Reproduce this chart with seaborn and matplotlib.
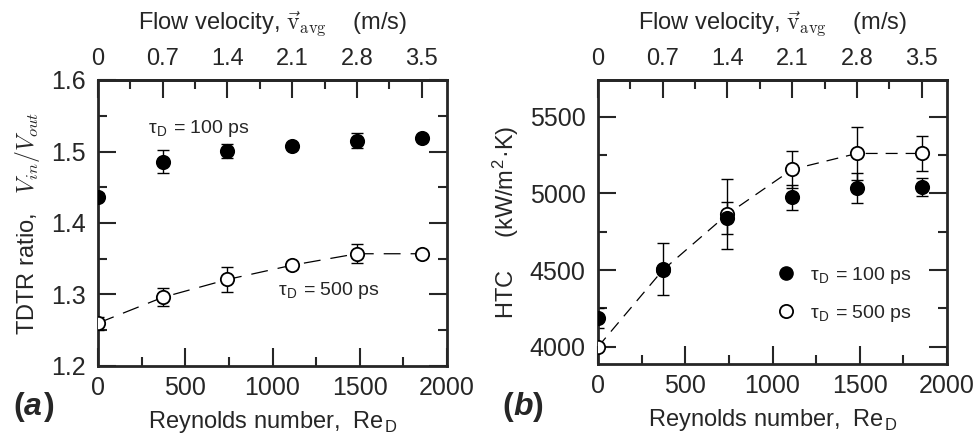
import numpy as np
import pandas as pd
import matplotlib
matplotlib.use("Agg")
import matplotlib.pyplot as plt
import seaborn as sns
from matplotlib.ticker import MultipleLocator, FixedLocator, FixedFormatter
from matplotlib.lines import Line2D

# Reynolds number of each measurement (matches the flow velocities on top)
re_d = [0, 371, 742, 1113, 1484, 1855]

# panel (a): TDTR ratio
ratio_100 = [1.437, 1.486, 1.501, 1.508, 1.515, 1.519]
ratio_100_err = [0.005, 0.0155, 0.010, 0.004, 0.0105, 0.0]
ratio_500 = [1.260, 1.296, 1.321, 1.341, 1.357, 1.357]
ratio_500_err = [0.009, 0.0125, 0.0175, 0.005, 0.013, 0.0]

# panel (b): HTC
htc_100 = [4188, 4507, 4840, 4975, 5035, 5042]
htc_100_err = [63, 170, 105, 80, 100, 60]
htc_500 = [4000, 4500, 4865, 5157, 5261, 5261]
htc_500_err = [0, 0, 230, 122, 170, 115]

vel_ticks = [0, 0.7, 1.4, 2.1, 2.8, 3.5]
vel_labels = ['0', '0.7', '1.4', '2.1', '2.8', '3.5']
re_per_vel = 530.0

df_a = pd.DataFrame({'Re': re_d, 'r100': ratio_100, 'r500': ratio_500})
df_b = pd.DataFrame({'Re': re_d, 'h100': htc_100, 'h500': htc_500})

sns.set_style("ticks")
plt.rcParams['font.family'] = ['Liberation Sans', 'DejaVu Sans']
plt.rcParams['mathtext.fontset'] = 'cm'
plt.rcParams['axes.linewidth'] = 2.0

fig = plt.figure(figsize=(9.8, 4.38), dpi=100)
ax1 = fig.add_axes([98/980, 1-366/438, 349/980, 286/438])
ax2 = fig.add_axes([598/980, 1-364/438, 349/980, 284/438])

tick_fs = 18
label_fs = 17
note_fs = 14
msize = 92


def draw_panel(ax, df, c100, c500, e100, e500, dash):
    # dashed guide through the 500 ps points
    sns.lineplot(data=df, x='Re', y=c500, ax=ax, color='k', lw=0.9,
                 linestyle=(0, dash), zorder=1)
    ax.errorbar(df['Re'], df[c500], yerr=e500, fmt='none', ecolor='k',
                elinewidth=1, capsize=4.3, capthick=1, zorder=2)
    ax.errorbar(df['Re'], df[c100], yerr=e100, fmt='none', ecolor='k',
                elinewidth=1, capsize=4.3, capthick=1, zorder=2)
    sns.scatterplot(data=df, x='Re', y=c500, ax=ax, marker='o', s=msize,
                    color='white', edgecolor='k', linewidth=1.3, zorder=3)
    sns.scatterplot(data=df, x='Re', y=c100, ax=ax, marker='o', s=msize,
                    color='k', edgecolor='k', linewidth=1.3, zorder=4)

    ax.set_xlim(0, 2000)
    ax.xaxis.set_major_locator(MultipleLocator(500))
    ax.xaxis.set_minor_locator(MultipleLocator(250))
    ax.tick_params(which='both', direction='in', top=False, right=True,
                   width=1.5, labelsize=tick_fs)
    ax.tick_params(which='major', length=13)
    ax.tick_params(which='minor', length=6.5)
    ax.tick_params(axis='x', pad=7)
    ax.tick_params(axis='y', pad=9)
    ax.set_xlabel('Reynolds number,  Re$_\\mathregular{D}$', fontsize=label_fs, labelpad=7)

    # flow velocity on top
    top = ax.secondary_xaxis('top', functions=(lambda v: v / re_per_vel,
                                               lambda v: v * re_per_vel))
    top.xaxis.set_major_locator(FixedLocator(vel_ticks))
    top.xaxis.set_major_formatter(FixedFormatter(vel_labels))
    top.xaxis.set_minor_locator(MultipleLocator(0.35))
    top.tick_params(which='both', direction='in', width=1.5, labelsize=tick_fs - 1, pad=7)
    top.tick_params(which='major', length=13)
    top.tick_params(which='minor', length=6.5)
    top.spines['top'].set_linewidth(2.0)
    top.set_xlabel('Flow velocity, $\\vec{\\mathrm{v}}_{\\mathrm{avg}}$    (m/s)',
                   fontsize=label_fs, labelpad=13)


draw_panel(ax1, df_a, 'r100', 'r500', ratio_100_err, ratio_500_err, (13.5, 8))
ax1.set_ylim(1.2, 1.6)
ax1.yaxis.set_major_locator(MultipleLocator(0.1))
ax1.yaxis.set_minor_locator(MultipleLocator(0.05))
ax1.set_ylabel('TDTR ratio,   $V_{in}/V_{out}$', fontsize=label_fs, labelpad=6)
ax1.text(285, 1.532, '\u03c4$_\\mathregular{D}$ = 100 ps', fontsize=note_fs, va='center')
ax1.text(1033, 1.306, '\u03c4$_\\mathregular{D}$ = 500 ps', fontsize=note_fs, va='center')

draw_panel(ax2, df_b, 'h100', 'h500', htc_100_err, htc_500_err, (9.6, 6.4))
ax2.set_ylim(3888, 5740)
ax2.yaxis.set_major_locator(MultipleLocator(500))
ax2.yaxis.set_minor_locator(MultipleLocator(250))
ax2.set_ylabel('HTC     (kW/m$^\\mathregular{2}$\u00b7K)', fontsize=label_fs, labelpad=6)

handles = [Line2D([], [], marker='o', color='k', ls='none', markersize=9.5),
           Line2D([], [], marker='o', color='k', mfc='white', ls='none', markersize=9.5, mew=1.3)]
ax2.legend(handles, ['\u03c4$_\\mathregular{D}$ = 100 ps', '\u03c4$_\\mathregular{D}$ = 500 ps'],
           loc='center left', bbox_to_anchor=(0.456, 0.245), frameon=False,
           fontsize=note_fs, handlelength=1.2, handletextpad=0.6, labelspacing=0.9)

# panel letters: bold parens, bold italic letter
for x0, letter in [(13, 'a'), (502, 'b')]:
    y0 = 1 - 407/438
    fig.text(x0/980, y0, '(', fontsize=23, fontweight='bold', va='center')
    fig.text((x0 + 11)/980, y0, letter, fontsize=23, fontweight='bold', style='italic', va='center')
    fig.text((x0 + 31)/980, y0, ')', fontsize=23, fontweight='bold', va='center')

fig.savefig('out.png', dpi=100)
